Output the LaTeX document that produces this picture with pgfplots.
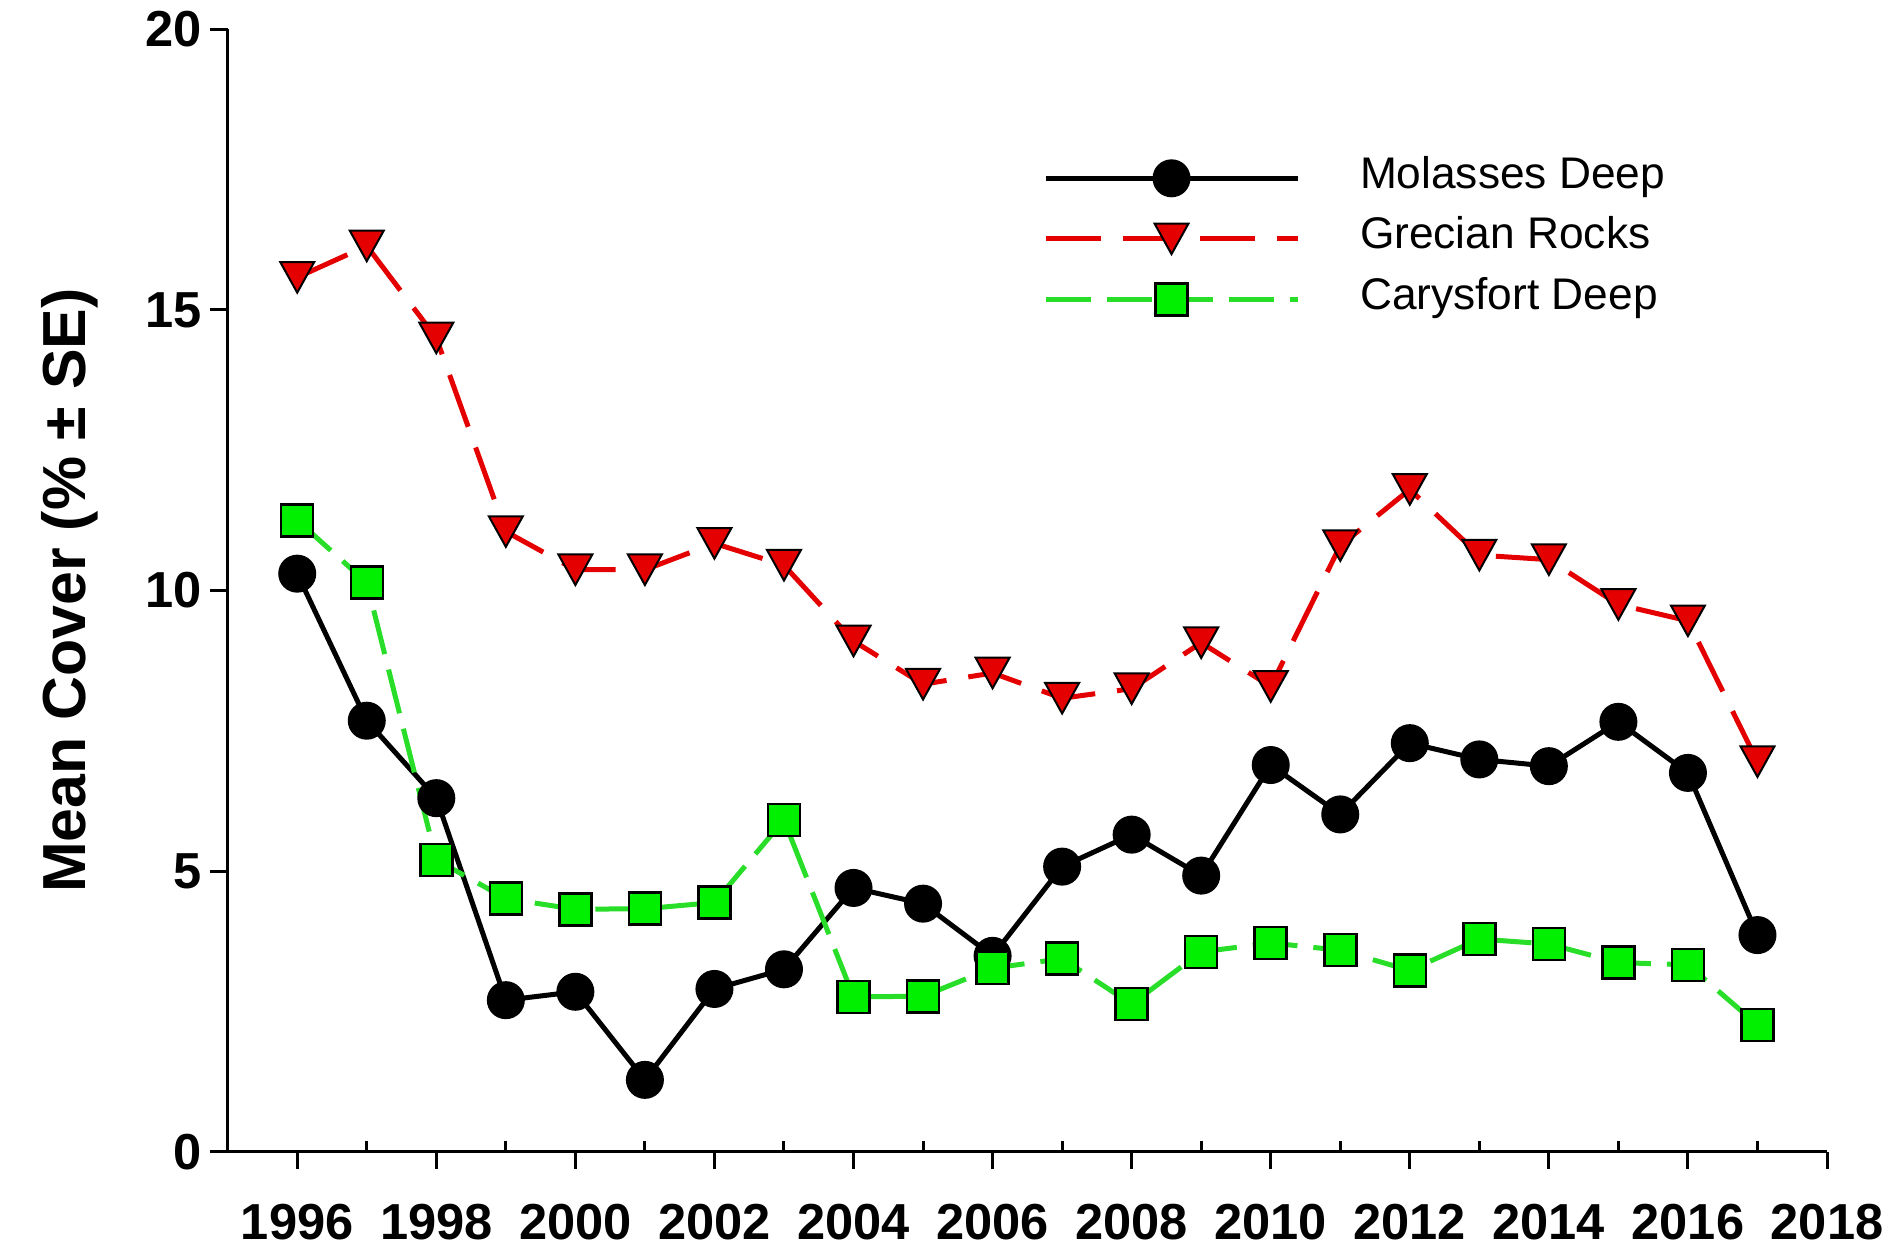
\documentclass[border=0pt]{standalone}
\usepackage{pgfplots}
\pgfplotsset{compat=1.18}
\usepackage{fontspec}
\setmainfont{Liberation Sans}
\definecolor{myred}{RGB}{228,0,0}
\definecolor{mygreenline}{RGB}{40,222,40}
\definecolor{mygreen}{RGB}{0,240,0}
\pgfdeclareplotmark{dtri}{%
 \pgfpathmoveto{\pgfqpoint{-\pgfplotmarksize}{0.9\pgfplotmarksize}}%
 \pgfpathlineto{\pgfqpoint{\pgfplotmarksize}{0.9\pgfplotmarksize}}%
 \pgfpathlineto{\pgfqpoint{0pt}{-0.9\pgfplotmarksize}}%
 \pgfpathclose
 \pgfusepathqfillstroke}
\begin{document}
\begin{tikzpicture}
\begin{axis}[
 scale only axis,
 width=159.93mm, height=112.24mm,
 xmin=1995, xmax=2018, ymin=0, ymax=20,
 clip=false,
 axis x line*=bottom, axis y line*=left,
 axis line style={line width=0.3mm, -},
 xtick={1996,1998,...,2018},
 ytick={0,5,10,15,20},
 minor tick num=0,
 tick align=outside,
 major tick length=1.75mm,
 tick style={line width=0.3mm, black},
 /pgf/number format/assume math mode=true,
 /pgf/number format/set thousands separator={},
 xticklabel style={font=\fontsize{14.4}{17}\selectfont\bfseries, anchor=north, inner sep=0pt, yshift=-3.45mm},
 yticklabel style={font=\fontsize{14.4}{17}\selectfont\bfseries, anchor=east, inner sep=0pt, xshift=-0.8mm},
 ylabel={Mean Cover (\% ± SE)},
 ylabel style={font=\fontsize{17.3}{20}\selectfont\bfseries, at={(axis cs:1992.95,10)}, anchor=base},
 legend style={draw=none, fill=none, inner sep=0pt, outer sep=0pt,
   at={(rel axis cs:0.5098,0.8942)}, anchor=north west,
   font=\fontsize{12.6}{15}\selectfont,
   nodes={inner sep=0pt, text height=4mm, text depth=2.05mm},
   row sep=0pt, column sep=6mm},
 legend cell align=left,
 legend image code/.code={\draw[mark repeat=2,mark phase=2,#1] plot coordinates {(0mm,0mm) (12.6mm,0mm) (25.2mm,0mm)};},
]
\addplot[black, line width=0.5mm, mark=*, mark size=1.8mm, mark options={solid, fill=black, line width=0.2mm}] coordinates {
(1996,10.30)(1997,7.68)(1998,6.30)(1999,2.70)(2000,2.85)(2001,1.28)(2002,2.90)(2003,3.25)(2004,4.70)(2005,4.42)(2006,3.49)(2007,5.08)(2008,5.65)(2009,4.92)(2010,6.89)(2011,6.01)(2012,7.28)(2013,6.99)(2014,6.87)(2015,7.66)(2016,6.75)(2017,3.86)};
\addlegendentry{Molasses Deep}
\addplot[myred, line width=0.5mm, dash pattern=on 5.5mm off 2.2mm, mark=dtri, mark size=1.7mm, mark options={solid, fill=myred, draw=black, line width=0.2mm}] coordinates {
(1996,15.58)(1997,16.14)(1998,14.50)(1999,11.05)(2000,10.37)(2001,10.37)(2002,10.84)(2003,10.45)(2004,9.10)(2005,8.33)(2006,8.53)(2007,8.08)(2008,8.25)(2009,9.07)(2010,8.29)(2011,10.80)(2012,11.80)(2013,10.63)(2014,10.55)(2015,9.75)(2016,9.46)(2017,6.95)};
\addlegendentry{Grecian Rocks}
\addplot[mygreenline, line width=0.5mm, dash pattern=on 4.5mm off 1.6mm, mark=square*, mark size=1.6mm, mark options={solid, fill=mygreen, draw=black, line width=0.25mm}] coordinates {
(1996,11.25)(1997,10.14)(1998,5.20)(1999,4.51)(2000,4.32)(2001,4.33)(2002,4.44)(2003,5.91)(2004,2.76)(2005,2.77)(2006,3.27)(2007,3.44)(2008,2.63)(2009,3.56)(2010,3.72)(2011,3.59)(2012,3.23)(2013,3.79)(2014,3.70)(2015,3.37)(2016,3.33)(2017,2.26)};
\addlegendentry{Carysfort Deep}
\pgfplotsinvokeforeach{1997,1999,2001,2003,2005,2007,2009,2011,2013,2015,2017}{
  \draw[line width=0.3mm, black] (axis cs:#1,0) -- (axis cs:#1,0.196);
}
\coordinate (O) at (rel axis cs:0,0);
\end{axis}
\pgfresetboundingbox
\path[use as bounding box] ([shift={(-22.77mm,-10.03mm)}]O) rectangle ++(189.7mm,125.2mm);
\end{tikzpicture}
\end{document}
